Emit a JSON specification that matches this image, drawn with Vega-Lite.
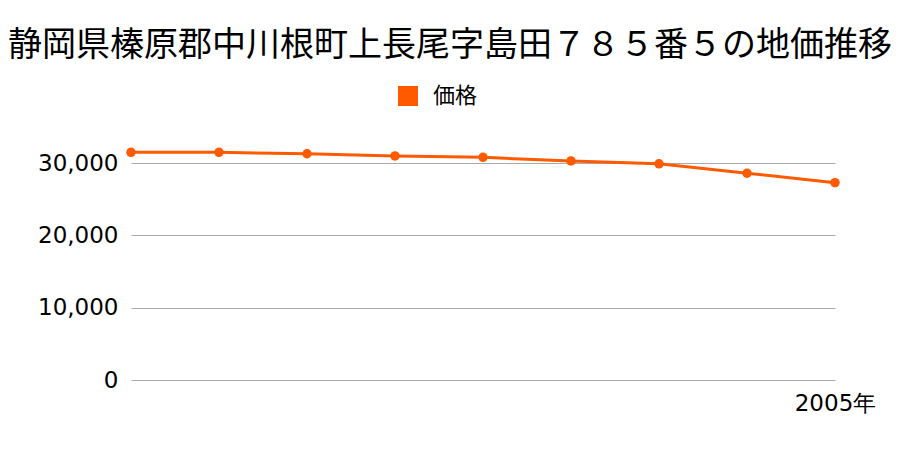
{
  "$schema": "https://vega.github.io/schema/vega-lite/v6.json",
  "background": "white",
  "autosize": {"type": "none"},
  "width": 704,
  "height": 253,
  "padding": {"left": 131, "top": 127, "right": 65, "bottom": 70},
  "title": {
    "text": "静岡県榛原郡中川根町上長尾字島田７８５番５の地価推移",
    "font": "Noto Sans CJK JP",
    "fontSize": 34,
    "fontWeight": "normal",
    "color": "#000000",
    "anchor": "middle",
    "frame": "group",
    "dx": -33,
    "offset": 22
  },
  "config": {
    "view": {"stroke": null},
    "font": "DejaVu Sans"
  },
  "data": {
    "values": [
      {"year": 1997, "price": 31500, "series": "価格"},
      {"year": 1998, "price": 31500, "series": "価格"},
      {"year": 1999, "price": 31300, "series": "価格"},
      {"year": 2000, "price": 31000, "series": "価格"},
      {"year": 2001, "price": 30800, "series": "価格"},
      {"year": 2002, "price": 30300, "series": "価格"},
      {"year": 2003, "price": 29900, "series": "価格"},
      {"year": 2004, "price": 28600, "series": "価格"},
      {"year": 2005, "price": 27300, "series": "価格"}
    ]
  },
  "encoding": {
    "x": {
      "field": "year",
      "type": "quantitative",
      "scale": {"domain": [1997, 2005], "nice": false, "zero": false},
      "axis": {
        "title": null,
        "values": [2005],
        "labelExpr": "datum.value + '年'",
        "grid": false,
        "domain": false,
        "ticks": false,
        "labelFlush": false,
        "labelAlign": "center",
        "labelFontSize": 23,
        "labelColor": "#000000",
        "labelPadding": 12,
        "labelFont": "DejaVu Sans"
      }
    },
    "y": {
      "field": "price",
      "type": "quantitative",
      "scale": {"domain": [0, 35000], "nice": false},
      "axis": {
        "title": null,
        "values": [0, 10000, 20000, 30000],
        "format": ",d",
        "grid": true,
        "gridColor": "#aaaaaa",
        "gridWidth": 1,
        "domain": false,
        "ticks": false,
        "labelFontSize": 23,
        "labelColor": "#000000",
        "labelPadding": 13,
        "labelFont": "DejaVu Sans"
      }
    },
    "color": {
      "field": "series",
      "type": "nominal",
      "scale": {"range": ["#ff5a00"]},
      "legend": {
        "title": null,
        "orient": "none",
        "legendX": 266,
        "legendY": -42,
        "padding": 0,
        "symbolType": "square",
        "symbolSize": 400,
        "symbolStrokeWidth": 0,
        "symbolFillColor": "#ff5a00",
        "labelFontSize": 22,
        "labelColor": "#000000",
        "labelFont": "Noto Sans CJK JP",
        "labelOffset": 14
      }
    }
  },
  "layer": [
    {"mark": {"type": "line", "strokeWidth": 3}},
    {"mark": {"type": "circle", "size": 90, "opacity": 1}}
  ]
}
